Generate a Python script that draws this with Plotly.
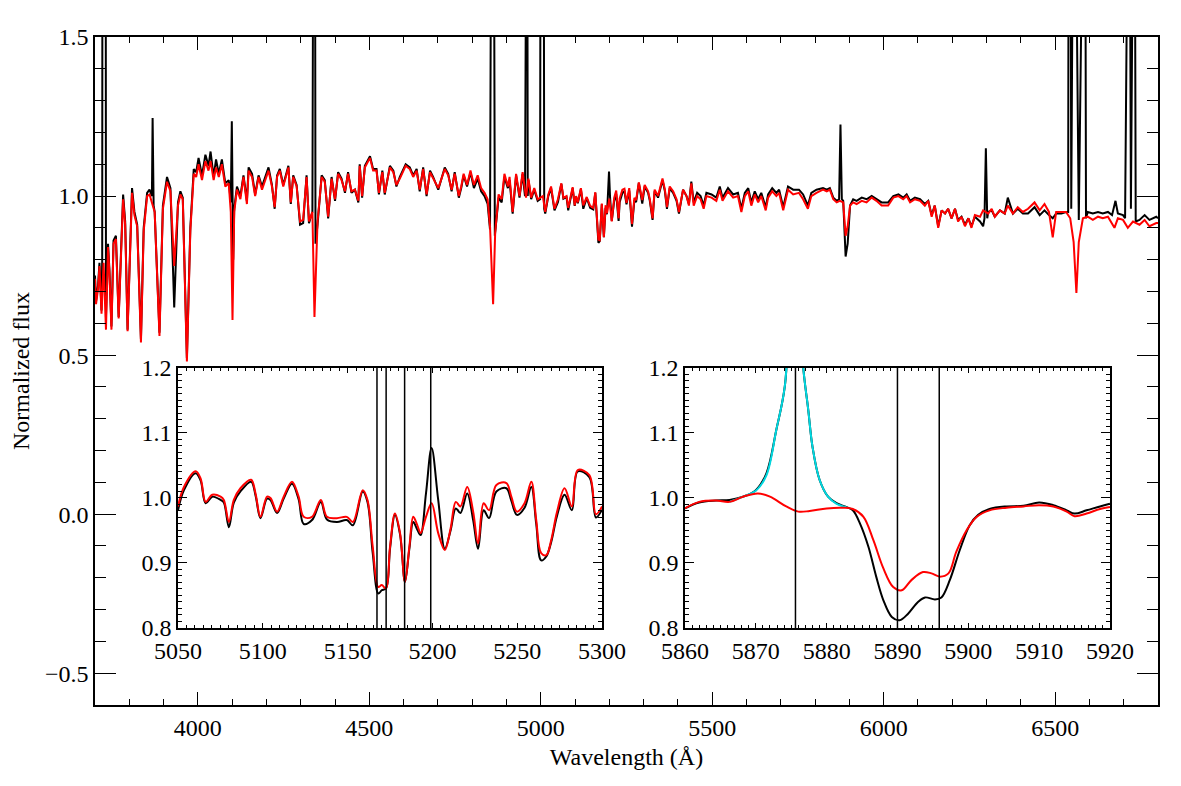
import plotly.graph_objects as go

# observed spectrum (black) and model (red), full range
wl_model = [3700,3703,3709,3713,3719,3725,3732,3738,3742,3748,
            3754,3761,3769,3782,3788,3795,3808,3815,3823,3834,
            3842,3852,3859,3866,3874,3888,3898,3910,3920,3931,
            3942,3949,3956,3968,3978,3988,3995,4002,4012,4022,
            4031,4037,4046,4053,4061,4070,4080,4090,4096,4101,
            4106,4114,4124,4133,4143,4148,4158,4167,4177,4187,
            4196,4206,4216,4224,4231,4239,4249,4264,4271,4278,
            4288,4298,4307,4317,4324,4334,4340,4349,4361,4370,
            4380,4390,4400,4409,4419,4429,4438,4448,4458,4468,
            4472,4479,4487,4502,4511,4521,4528,4538,4545,4560,
            4570,4579,4589,4606,4618,4628,4638,4647,4657,4667,
            4677,4686,4701,4720,4730,4740,4749,4761,4768,4775,
            4785,4795,4805,4816,4826,4836,4845,4852,4861,4867,
            4877,4886,4894,4904,4909,4918,4928,4938,4947,4957,
            4964,4972,4981,4991,5006,5013,5022,5030,5040,5050,
            5060,5066,5075,5080,5093,5099,5103,5108,5117,5124,
            5134,5144,5153,5159,5168,5172,5178,5184,5189,5193,
            5200,5207,5214,5220,5227,5230,5238,5244,5250,5258,
            5266,5273,5278,5286,5296,5303,5313,5318,5326,5332,
            5342,5355,5362,5368,5376,5386,5396,5403,5415,5425,
            5432,5439,5446,5456,5466,5475,5483,5498,5512,5522,
            5530,5546,5561,5575,5585,5595,5605,5614,5624,5634,
            5643,5656,5663,5675,5687,5695,5707,5721,5736,5753,
            5765,5779,5789,5804,5823,5834,5843,5853,5863,5872,
            5882,5889,5895,5902,5911,5921,5936,5950,5965,5979,
            5994,6013,6028,6043,6057,6067,6077,6091,6106,6120,
            6130,6140,6149,6159,6169,6179,6188,6198,6208,6217,
            6227,6237,6247,6256,6266,6281,6290,6305,6315,6324,
            6339,6353,6362,6377,6391,6406,6421,6440,6455,6469,
            6482,6493,6503,6518,6532,6544,6554,6562,6569,6581,
            6595,6610,6625,6639,6654,6673,6683,6698,6712,6727,
            6746,6761,6775,6795,6800]
flux_model = [0.74,0.66,0.71,0.78,0.63,0.79,0.58,0.84,0.76,0.58,
              0.85,0.865,0.615,0.99,0.91,0.575,1.01,0.94,0.905,0.54,
              0.89,1.0,1.005,0.98,0.95,0.56,0.96,1.045,1.015,0.78,
              0.97,1.005,0.99,0.48,0.89,1.07,1.06,1.10,1.05,1.11,
              1.08,1.11,1.05,1.09,1.06,1.10,1.03,1.04,0.95,0.61,
              0.95,1.02,0.99,1.06,0.975,1.08,1.06,1.0,1.06,1.02,
              1.05,1.08,1.03,0.965,1.06,1.08,1.03,1.09,0.98,1.06,
              1.03,0.92,0.925,1.06,0.92,0.95,0.62,0.92,1.06,1.045,
              0.935,1.055,0.99,1.07,1.05,1.015,1.07,1.015,1.02,0.985,
              1.095,1.0,1.09,1.12,1.08,1.08,1.01,1.075,1.01,1.09,
              1.075,1.035,1.055,1.095,1.085,1.06,1.08,1.02,1.085,1.005,
              1.075,1.055,1.025,1.085,1.065,1.02,1.07,1.0,1.03,1.07,
              1.035,1.08,1.035,1.065,1.025,1.01,0.99,0.905,0.66,0.885,
              1.005,0.99,1.07,1.03,1.06,0.95,1.07,1.0,1.075,0.995,
              1.055,0.995,1.025,0.99,1.0,0.95,1.005,1.03,0.96,0.99,
              1.04,0.994,1.0,0.963,1.028,0.971,1.0,0.98,1.025,0.971,
              0.997,0.969,0.963,1.012,0.863,0.861,0.976,0.871,0.971,0.946,
              0.992,0.92,0.994,1.017,0.93,0.992,1.02,1.023,0.979,1.025,
              0.912,0.994,0.987,1.043,0.987,1.035,1.015,0.99,0.93,1.02,
              1.0,1.055,1.02,0.965,1.03,1.015,0.99,0.95,1.02,1.0,
              0.97,1.04,0.97,1.0,0.99,0.96,1.0,0.995,0.985,1.02,
              0.985,1.015,0.995,1.0,0.95,1.0,1.015,0.97,1.005,0.98,
              1.0,0.955,0.995,1.015,1.0,1.01,0.955,1.02,1.005,1.01,
              0.99,0.96,1.0,1.01,1.02,1.015,1.02,0.99,0.98,0.985,
              0.98,0.875,0.905,0.97,0.98,0.975,0.985,0.98,0.995,0.985,
              0.97,0.97,0.995,1.0,0.99,1.0,0.98,0.99,0.985,0.97,
              0.985,0.935,0.97,0.90,0.955,0.945,0.96,0.93,0.96,0.92,
              0.935,0.905,0.93,0.90,0.94,0.935,0.955,0.945,0.96,0.935,
              0.955,0.945,0.97,0.945,0.965,0.95,0.96,0.98,0.955,0.975,
              0.95,0.87,0.95,0.95,0.95,0.93,0.855,0.695,0.855,0.93,
              0.935,0.925,0.935,0.93,0.935,0.90,0.93,0.925,0.90,0.92,
              0.91,0.925,0.905,0.915,0.915]

wl_obs = [3700,3703,3709,3713,3719,3721,3722,3731,3732,3738,
          3742,3748,3754,3761,3769,3782,3788,3795,3808,3815,
          3823,3834,3842,3852,3859,3866,3868,3871,3874,3888,
          3898,3910,3920,3931,3942,3949,3956,3968,3978,3988,
          3995,4002,4012,4022,4031,4037,4046,4053,4061,4070,
          4080,4090,4096,4099,4103,4106,4114,4124,4133,4143,
          4148,4158,4167,4177,4187,4196,4206,4216,4224,4231,
          4239,4249,4264,4271,4278,4288,4298,4307,4317,4324,
          4334,4338,4341,4343,4349,4361,4370,4380,4390,4400,
          4409,4419,4429,4438,4448,4458,4468,4472,4479,4487,
          4502,4511,4521,4528,4538,4545,4560,4570,4579,4589,
          4606,4618,4628,4638,4647,4657,4667,4677,4686,4701,
          4720,4730,4740,4749,4761,4768,4775,4785,4795,4805,
          4816,4826,4836,4845,4852,4857,4862,4866,4877,4886,
          4894,4904,4909,4918,4928,4938,4947,4954,4956,4960,
          4962,4964,4972,4981,4991,4998,5000,5008,5010,5013,
          5022,5030,5040,5050,5060,5066,5075,5080,5093,5099,
          5103,5108,5117,5124,5134,5144,5153,5159,5168,5172,
          5178,5184,5189,5193,5196,5199,5202,5207,5214,5220,
          5227,5230,5238,5244,5250,5258,5266,5273,5278,5286,
          5296,5303,5313,5318,5326,5332,5342,5355,5362,5368,
          5376,5386,5396,5403,5415,5425,5432,5439,5446,5456,
          5466,5475,5483,5498,5512,5522,5530,5546,5561,5575,
          5585,5595,5605,5614,5624,5634,5643,5656,5663,5675,
          5687,5695,5707,5721,5736,5753,5765,5779,5789,5804,
          5823,5834,5843,5853,5863,5870,5874,5878,5882,5889,
          5895,5902,5911,5921,5936,5950,5965,5979,5994,6013,
          6028,6043,6057,6067,6077,6091,6106,6120,6130,6140,
          6149,6159,6169,6179,6188,6198,6208,6217,6227,6237,
          6247,6256,6266,6281,6290,6294,6298,6302,6305,6315,
          6324,6339,6353,6362,6377,6391,6406,6421,6440,6455,
          6469,6482,6493,6503,6518,6532,6538,6540,6544,6547,
          6550,6555,6569,6576,6587,6590,6595,6610,6625,6639,
          6654,6666,6676,6683,6698,6704,6707,6716,6721,6724,
          6731,6735,6746,6761,6775,6795,6800]
flux_obs = [0.75,0.67,0.72,0.79,0.64,0.80,2.5,2.5,0.62,0.85,
            0.77,0.59,0.86,0.875,0.62,1.005,0.92,0.58,1.025,0.95,
            0.91,0.55,0.90,1.01,1.02,1.0,1.245,0.97,0.95,0.57,
            0.97,1.06,1.025,0.65,0.98,1.015,0.995,0.49,0.90,1.085,
            1.075,1.12,1.065,1.13,1.095,1.14,1.06,1.115,1.07,1.115,
            1.04,1.05,0.98,1.235,0.80,0.96,1.03,1.0,1.065,0.985,
            1.09,1.07,1.005,1.065,1.03,1.06,1.09,1.035,0.96,1.065,
            1.085,1.035,1.095,0.975,1.065,1.035,0.91,0.915,1.065,0.915,
            0.95,2.5,2.5,0.85,0.91,1.065,1.05,0.93,1.06,0.985,
            1.075,1.055,1.01,1.075,1.01,1.02,0.98,1.10,0.995,1.095,
            1.125,1.085,1.085,1.005,1.08,1.005,1.095,1.08,1.03,1.06,
            1.10,1.09,1.065,1.085,1.015,1.09,1.0,1.08,1.06,1.02,
            1.09,1.07,1.015,1.075,0.995,1.025,1.065,1.03,1.075,1.025,
            1.055,1.015,1.0,0.975,0.895,2.5,2.5,0.875,0.995,0.98,
            1.06,1.025,1.05,0.945,1.065,0.995,1.07,1.0,2.5,2.5,
            1.0,1.05,0.99,1.02,0.985,0.99,2.5,2.5,0.96,0.945,
            1.0,1.025,0.955,0.981,1.038,0.992,0.997,0.955,1.025,0.969,
            0.998,0.977,1.022,0.96,0.994,0.963,0.958,1.01,0.853,0.858,
            0.974,0.871,0.963,0.943,1.007,1.077,0.997,0.922,0.984,1.007,
            0.922,0.981,1.01,1.015,0.974,1.017,0.904,0.987,0.981,1.041,
            0.976,1.03,1.01,0.985,0.925,1.015,0.995,1.05,1.015,0.96,
            1.025,1.01,0.985,0.945,1.02,1.0,0.975,1.045,0.98,1.01,
            1.0,0.97,1.01,1.005,0.995,1.03,0.995,1.025,1.005,1.01,
            0.96,1.01,1.025,0.98,1.015,0.99,1.01,0.965,1.005,1.025,
            1.01,1.02,0.965,1.03,1.02,1.02,1.005,0.97,1.01,1.02,
            1.025,1.02,1.025,0.995,0.985,0.99,1.225,0.99,0.985,0.81,
            0.85,0.97,0.99,0.985,0.995,0.99,1.0,0.99,0.98,0.98,
            1.0,1.005,0.995,1.005,0.985,0.995,0.99,0.975,0.985,0.94,
            0.97,0.905,0.955,0.945,0.96,0.93,0.96,0.925,0.935,0.91,
            0.93,0.905,0.935,0.92,0.905,0.93,1.15,0.93,0.95,0.955,
            0.935,0.955,0.945,0.995,0.945,0.96,0.945,0.945,0.965,0.94,
            0.955,0.94,0.93,0.945,0.945,0.95,0.95,2.5,2.5,0.96,
            2.5,2.5,0.925,2.5,2.5,0.93,0.95,0.945,0.95,0.945,
            0.95,0.94,0.985,0.945,0.94,0.93,2.5,2.5,0.96,2.5,
            2.5,0.92,0.925,0.94,0.925,0.935,0.93]

# inset 1: Mg b region
wl_in1 = [5050,5053.5,5060.4,5063.3,5066.3,5070.2,5075.1,5077,5080,5082.9,
          5086.8,5093.1,5095.7,5098.6,5102.5,5104.5,5108.4,5112.3,5117.2,5121.1,
          5124.1,5129,5134.2,5137.8,5143.7,5149.5,5153.1,5158.9,5161.7,5164.8,
          5168.1,5170.1,5172.6,5175,5177.9,5180.9,5183.8,5186.4,5188.7,5191.1,
          5193,5196.2,5199.5,5203.4,5207.3,5210.7,5213.8,5216.5,5220.5,5224,
          5226.9,5230.2,5233.4,5237.7,5243.6,5246.5,5249.8,5254.3,5258.3,5261.2,
          5264.1,5267.1,5270,5273.4,5277.9,5282.2,5285.7,5292.5,5296.4,5300]
model_in1 = [0.987,1.017,1.041,1.030,0.994,1.005,1.002,0.997,0.963,0.997,
             1.015,1.028,1.007,0.971,1.002,1.0,0.979,1.002,1.025,1.002,
             0.971,0.971,0.997,0.971,0.969,0.971,0.963,1.012,0.997,0.925,
             0.863,0.866,0.861,0.925,0.976,0.946,0.871,0.925,0.971,0.958,
             0.946,0.971,0.992,0.946,0.920,0.953,0.994,0.987,1.017,0.979,
             0.930,0.992,0.981,1.020,1.023,1.002,0.979,0.992,1.025,0.966,
             0.915,0.912,0.935,0.978,1.015,0.987,1.043,1.035,0.975,0.987]
obs_in1 = [0.981,1.012,1.038,1.027,0.992,1.002,0.997,0.993,0.955,0.993,
           1.010,1.025,1.004,0.969,0.999,0.997,0.977,0.999,1.022,0.998,
           0.960,0.966,0.994,0.967,0.963,0.966,0.958,1.010,0.994,0.915,
           0.853,0.858,0.861,0.922,0.974,0.944,0.871,0.922,0.963,0.951,
           0.943,1.007,1.077,0.997,0.922,0.950,0.984,0.977,1.007,0.966,
           0.922,0.981,0.969,1.010,1.015,0.996,0.974,0.985,1.017,0.960,
           0.904,0.910,0.932,0.972,1.005,0.981,1.041,1.032,0.970,0.982]
lines_in1 = [5167.3, 5172.7, 5183.6, 5199.0]

# inset 2: He I 5876 / Na D region
wl_in2 = [5860,5862,5864.4,5866.3,5868.2,5870,5871.5,5872.9,5874.1,5875.4,
          5876.7,5877.4,5878,5879,5880.2,5881.4,5882.8,5883.7,5884.7,5885.9,
          5887,5888,5889.2,5890.3,5891.5,5892.9,5893.9,5895.3,5896.2,5897.4,
          5898.8,5900.2,5901.4,5903,5905.4,5907.8,5910,5912,5913.9,5915,
          5916.7,5918.6,5920]
obs_in2 = [0.984,0.993,0.996,0.997,1.002,1.012,1.038,1.105,1.172,1.40,
           1.200,1.136,1.079,1.028,1.002,0.992,0.986,0.981,0.961,0.925,
           0.879,0.843,0.817,0.812,0.822,0.840,0.847,0.844,0.847,0.874,
           0.920,0.958,0.974,0.983,0.987,0.988,0.993,0.989,0.981,0.976,
           0.981,0.987,0.991]
wl_model_in2 = [5860,5862,5864.4,5866.3,5868.2,5870.3,5872,5874.3,5876,5877.6,
                5880,5882.3,5883.7,5885.2,5886.6,5888,5889.4,5890.6,5892,5893.6,
                5894.8,5896,5897.2,5898.3,5899.8,5901.2,5903,5905.4,5907.8,5910,
                5912,5913.9,5915,5916.7,5918.6,5920]
model_in2 = [0.984,0.994,0.996,0.994,1.002,1.007,1.002,0.987,0.979,0.980,
             0.984,0.985,0.983,0.971,0.935,0.892,0.863,0.858,0.874,0.886,
             0.884,0.879,0.884,0.917,0.951,0.971,0.981,0.985,0.987,0.989,
             0.987,0.979,0.972,0.976,0.983,0.986]
wl_fit_in2 = [5866.3,5868.2,5870,5871.5,5872.9,5874.1,5875.4,5876.7,5877.4,5878,
              5879,5880.2,5881.4,5882.8]
fit_in2 = [0.994,1.002,1.011,1.035,1.105,1.172,1.40,1.200,1.136,1.079,
           1.028,1.002,0.991,0.986]
lines_in2 = [5875.6, 5890.0, 5895.9]

FONT = "Liberation Serif"

fig = go.Figure()
fig.add_trace(go.Scatter(x=wl_obs, y=flux_obs, mode="lines",
                         line=dict(color="black", width=2), xaxis="x", yaxis="y"))
fig.add_trace(go.Scatter(x=wl_model, y=flux_model, mode="lines",
                         line=dict(color="#ff0000", width=2), xaxis="x", yaxis="y"))

fig.add_trace(go.Scatter(x=wl_in1, y=obs_in1, mode="lines", line_shape="spline",
                         line=dict(color="black", width=2), xaxis="x2", yaxis="y2"))
fig.add_trace(go.Scatter(x=wl_in1, y=model_in1, mode="lines", line_shape="spline",
                         line=dict(color="#ff0000", width=2), xaxis="x2", yaxis="y2"))

fig.add_trace(go.Scatter(x=wl_in2, y=obs_in2, mode="lines", line_shape="spline",
                         line=dict(color="black", width=2), xaxis="x3", yaxis="y3"))
fig.add_trace(go.Scatter(x=wl_fit_in2, y=fit_in2, mode="lines", line_shape="spline",
                         line=dict(color="#00d8e0", width=2), xaxis="x3", yaxis="y3"))
fig.add_trace(go.Scatter(x=wl_model_in2, y=model_in2, mode="lines", line_shape="spline",
                         line=dict(color="#ff0000", width=2), xaxis="x3", yaxis="y3"))

for w in lines_in1:
    fig.add_shape(type="line", xref="x2", yref="y2 domain", x0=w, x1=w, y0=0, y1=1,
                  line=dict(color="black", width=1.5))
for w in lines_in2:
    fig.add_shape(type="line", xref="x3", yref="y3 domain", x0=w, x1=w, y0=0, y1=1,
                  line=dict(color="black", width=1.5))

def ax(**kw):
    base = dict(showline=True, linecolor="black", linewidth=1.5, mirror="ticks",
                ticks="inside", tickcolor="black", tickwidth=1.2,
                showgrid=False, zeroline=False, automargin=False,
                tickfont=dict(family=FONT, size=24, color="black"))
    base.update(kw)
    return base

# the page body adds 8px around the plot, so the figure is 8px smaller on each side
fig.update_layout(
    template="none",
    width=1173, height=778,
    margin=dict(l=87, r=23, t=29, b=81, autoexpand=False),
    paper_bgcolor="white", plot_bgcolor="white",
    font=dict(family=FONT, size=24, color="black"),
    showlegend=False,
    xaxis=ax(domain=[0, 1], range=[3700, 6800], anchor="y",
             tickmode="array", tickvals=[4000, 4500, 5000, 5500, 6000, 6500], ticklen=13,
             minor=dict(dtick=100, tick0=3700, ticklen=6, ticks="inside", tickcolor="black"),
             title=dict(text="Wavelength (Å)", font=dict(family=FONT, size=24, color="black"),
                        standoff=9)),
    yaxis=ax(domain=[0, 1], range=[-0.6, 1.5], anchor="x",
             tickmode="array", tickvals=[-0.5, 0, 0.5, 1.0, 1.5],
             ticktext=["\u22120.5", "0.0", "0.5", "1.0", "1.5"], ticklen=21,
             minor=dict(dtick=0.1, tick0=0, ticklen=11, ticks="inside", tickcolor="black"),
             title=dict(text="Normalized flux", font=dict(family=FONT, size=24, color="black"),
                        standoff=20)),
    xaxis2=ax(domain=[0.0781, 0.477], range=[5050, 5300], anchor="y2",
              tickmode="array", tickvals=[5050, 5100, 5150, 5200, 5250, 5300], ticklen=5,
              minor=dict(dtick=5, tick0=5050, ticklen=3, ticks="inside", tickcolor="black")),
    yaxis2=ax(domain=[0.1153, 0.5045], range=[0.8, 1.2], anchor="x2",
              tickmode="array", tickvals=[0.8, 0.9, 1.0, 1.1, 1.2],
              ticktext=["0.8", "0.9", "1.0", "1.1", "1.2"], ticklen=9,
              minor=dict(dtick=0.01, tick0=0.8, ticklen=4, ticks="inside", tickcolor="black")),
    xaxis3=ax(domain=[0.555, 0.9548], range=[5860, 5920], anchor="y3",
              tickmode="array", tickvals=[5860, 5870, 5880, 5890, 5900, 5910, 5920], ticklen=5,
              minor=dict(dtick=1, tick0=5860, ticklen=3, ticks="inside", tickcolor="black")),
    yaxis3=ax(domain=[0.1153, 0.5045], range=[0.8, 1.2], anchor="x3",
              tickmode="array", tickvals=[0.8, 0.9, 1.0, 1.1, 1.2],
              ticktext=["0.8", "0.9", "1.0", "1.1", "1.2"], ticklen=9,
              minor=dict(dtick=0.01, tick0=0.8, ticklen=4, ticks="inside", tickcolor="black")),
)

fig.write_html("out.html")
